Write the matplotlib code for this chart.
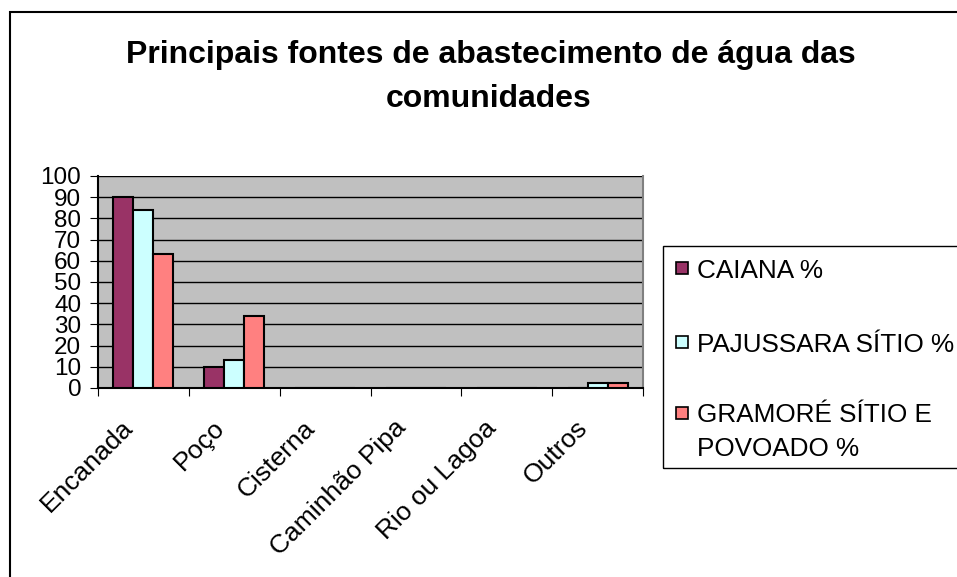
import numpy as np
import matplotlib
matplotlib.use('Agg')
import matplotlib.pyplot as plt
import matplotlib.transforms as mtransforms
from matplotlib.patches import Rectangle

plt.rcParams['font.family'] = ['Liberation Sans', 'DejaVu Sans']

categorias = ['Encanada', 'Poço', 'Cisterna', 'Caminhão Pipa', 'Rio ou Lagoa', 'Outros']
caiana = [90, 10, 0, 0, 0, 0]
pajussara = [84, 13, 0, 0, 0, 2.5]
gramore = [63, 34, 0, 0, 0, 2.5]
series = ['CAIANA %', 'PAJUSSARA SÍTIO %', 'GRAMORÉ SÍTIO E\nPOVOADO %']
cores = ['#993366', '#CCFFFF', '#FF8080']

W, H = 957, 577
fig = plt.figure(figsize=(W / 100, H / 100), dpi=100)
ax = fig.add_axes([98 / W, 1 - 388 / H, 545 / W, 212 / H])

# moldura externa do gráfico
fig.patches.append(Rectangle((10 / W, -0.1), 1.2, 1 - 12 / H + 0.1,
                             transform=fig.transFigure, fill=False,
                             edgecolor='black', linewidth=1.5))
# moldura da legenda (passa da borda direita)
fig.patches.append(Rectangle((663 / W, 1 - 468 / H), 0.5, 222 / H,
                             transform=fig.transFigure, fill=False,
                             edgecolor='black', linewidth=1))

x = np.arange(len(categorias)) + 0.5
w = 0.22
for i, (vals, cor, nome) in enumerate(zip([caiana, pajussara, gramore], cores, series)):
    ax.bar(x + (i - 1) * w, vals, w, color=cor, edgecolor='black', linewidth=1.5,
           label=nome, zorder=3)

ax.set_facecolor('#C0C0C0')
ax.set_xlim(0, 6)
ax.set_ylim(0, 100)
ax.set_yticks(range(0, 101, 10))
ax.tick_params(axis='y', labelsize=17.5, length=6, pad=6)
ax.yaxis.grid(True, color='black', linewidth=1, zorder=1)
ax.set_axisbelow(True)

ax.set_xticks(range(0, 7))
ax.set_xticklabels([])
ax.tick_params(axis='x', length=6, direction='out')
ax.set_xticks(x, minor=True)
ax.set_xticklabels(categorias, minor=True, rotation=45, ha='right', va='center',
                   rotation_mode='anchor', fontsize=19)
ax.tick_params(axis='x', which='minor', length=0, pad=0)
desloc = mtransforms.ScaledTranslation(-10 / 72, -26 / 72, fig.dpi_scale_trans)
for lbl in ax.get_xticklabels(minor=True):
    lbl.set_transform(lbl.get_transform() + desloc)

for s in ['left', 'bottom', 'right']:
    ax.spines[s].set_linewidth(1.5)
ax.spines['right'].set_color('#808080')
ax.spines['top'].set_visible(False)

fig.text(491 / W, 1 - 55 / H, 'Principais fontes de abastecimento de água das',
         ha='center', va='center', fontsize=23, fontweight='bold')
fig.text(489 / W, 1 - 99 / H, 'comunidades',
         ha='center', va='center', fontsize=23, fontweight='bold')

# legenda desenhada à mão (quadrado + texto)
leg_y = [268, 342, 413]
for y0, cor, nome in zip(leg_y, cores, series):
    fig.patches.append(Rectangle((676 / W, 1 - (y0 + 6) / H), 12 / W, 12 / H,
                                 transform=fig.transFigure, facecolor=cor,
                                 edgecolor='black', linewidth=1.2))
    for k, linha in enumerate(nome.split('\n')):
        fig.text(697 / W, 1 - (y0 + 34 * k) / H, linha, ha='left', va='center_baseline',
                 fontsize=18.8)

plt.savefig('out.png', dpi=100)
